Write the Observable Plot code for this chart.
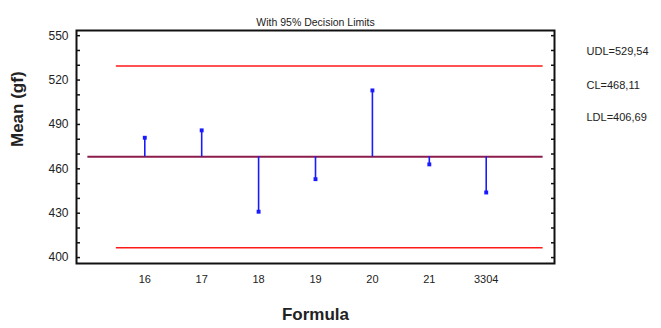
<!DOCTYPE html>
<html><head><meta charset="utf-8">
<script src="https://cdn.jsdelivr.net/npm/d3@7"></script>
<script src="https://cdn.jsdelivr.net/npm/@observablehq/plot@0.6"></script>
<style>body{margin:0;background:#fff;} svg{display:block;}</style>
</head><body><div id="chart"></div>
<script>
const formulas = ["16", "17", "18", "19", "20", "21", "3304"];
const means = [481, 486, 431, 453, 513, 463, 444];
const UDL = 529.54, CL = 468.11, LDL = 406.69;
const limitLabels = ["UDL=529,54", "CL=468,11", "LDL=406,69"];
const yLabelTicks = [400, 430, 460, 490, 520, 550];
const yMinorTicks = d3.range(400, 551, 10);
const title = "With 95% Decision Limits";

const pts = formulas.map((f, i) => ({pos: i + 1, f, v: means[i]}));
const n = formulas.length;
const limits = [
  {y: UDL, x1: 0.5, x2: n + 1, c: "#ff1a1a", w: 1.6},
  {y: LDL, x1: 0.5, x2: n + 1, c: "#ff1a1a", w: 1.6},
  {y: CL, x1: 0, x2: n + 1, c: "#8b1c4c", w: 2}
];
const font = "Liberation Sans, Arial, sans-serif";
const labelDy = [17, 51, 83];

const chart = Plot.plot({
  width: 661, height: 328,
  marginLeft: 76, marginTop: 30, marginRight: 107, marginBottom: 65,
  style: {fontFamily: font, background: "#fff"},
  x: {domain: [-0.2, n + 1.2]},
  y: {domain: [396, 553.5]},
  marks: [
    Plot.ruleY(limits, {y: "y", x1: "x1", x2: "x2", stroke: "c", strokeWidth: "w"}),
    Plot.ruleX(pts, {x: "pos", y1: CL, y2: "v", stroke: "#1a1aff", strokeWidth: 1.6}),
    Plot.dot(pts, {x: "pos", y: "v", symbol: "square", r: 2.2, fill: "#1a1aff"}),
    Plot.frame({stroke: "#111", strokeWidth: 2}),
    Plot.axisY(yMinorTicks, {anchor: "left", tickSize: -4, tickFormat: () => "", stroke: "#111", strokeWidth: 1.5, label: null}),
    Plot.axisY(yMinorTicks, {anchor: "right", tickSize: -4, tickFormat: () => "", stroke: "#111", strokeWidth: 1.5, label: null}),
    Plot.axisY(yLabelTicks, {anchor: "left", tickSize: 0, tickPadding: 8, fontSize: 12, fill: "#222", label: null}),
    Plot.axisX(pts.map(d => d.pos), {anchor: "bottom", tickSize: 0, tickPadding: 12, fontSize: 11, fill: "#222",
      tickFormat: p => formulas[p - 1], label: null}),
    Plot.text([title], {frameAnchor: "top", dy: -12, fontSize: 10.5, fill: "#222", textLength: 155}),
    ...limitLabels.map((t, i) => Plot.text([t], {frameAnchor: "top-right", dx: 32, dy: labelDy[i],
      textAnchor: "start", fontSize: 11, fill: "#222"})),
    Plot.text(["Formula"], {frameAnchor: "bottom", dy: 56, fontSize: 17, fontWeight: "bold", fill: "#222"}),
    Plot.text(["Mean (gf)"], {frameAnchor: "left", dx: -59, rotate: -90, fontSize: 17, fontWeight: "bold", fill: "#222"})
  ]
});
document.getElementById("chart").appendChild(chart);
</script></body></html>
